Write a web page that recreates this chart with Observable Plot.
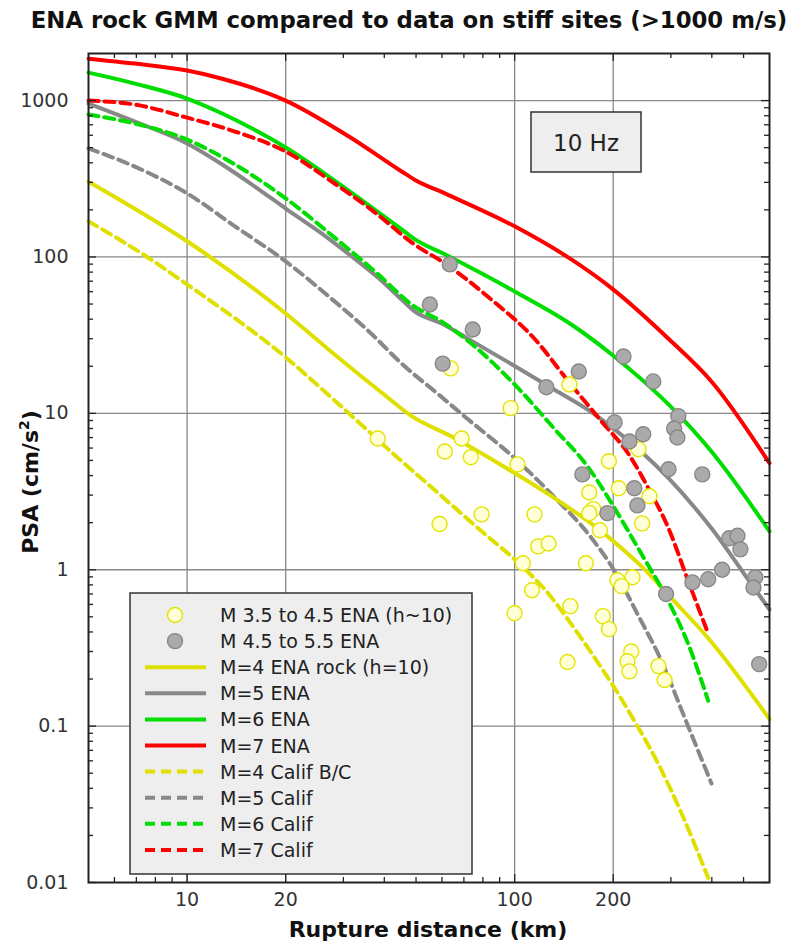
<!DOCTYPE html>
<html><head><meta charset="utf-8">
<script src="https://cdn.jsdelivr.net/npm/d3@7"></script>
<script src="https://cdn.jsdelivr.net/npm/@observablehq/plot@0.6"></script>
<style>body{margin:0;background:#fff;} svg{display:block}</style>
</head><body><div id="chart"></div>
<script>
// ---- tick values ----
const xTicks = [10, 20, 100, 200];
const xMinor = [6, 7, 8, 9, 30, 40, 50, 60, 70, 80, 90, 300, 400, 500];
const yTicks = [0.01, 0.1, 1, 10, 100, 1000];
const yGrid = [0.1, 1, 10, 100, 1000];
const yMinor = [0.02,0.03,0.04,0.05,0.06,0.07,0.08,0.09,
                0.2,0.3,0.4,0.5,0.6,0.7,0.8,0.9,
                2,3,4,5,6,7,8,9,
                20,30,40,50,60,70,80,90,
                200,300,400,500,600,700,800,900];

// ---- model curves [distance km, PSA cm/s2] ----
const ena4 = [[5,303],[10,126],[20,43.5],[28.2,23.8],[39.4,13.5],[48.5,9.6],[64.3,7.1],[91,4.67],[123,3.17],[184,1.76],[244,1.05],[307,0.63],[390,0.365],[600,0.111]];
const ena5 = [[5,957],[6.93,734],[10,531],[12.8,390],[16.1,282],[20,204],[25.8,141],[31.2,104],[39.4,70],[45.2,53.4],[49.5,44.9],[59.9,37.5],[74,29],[100,20.1],[132,14.2],[175,9.9],[202,7.9],[295,3.85],[399,1.84],[528,0.81],[600,0.557]];
const ena6 = [[5,1510],[6.93,1284],[10,1030],[12.8,826],[15.8,662],[20,501],[28.2,308],[37.4,201],[45.2,150],[49.5,130],[61.2,104],[100,60.2],[149,37],[198,23.8],[295,11.4],[399,5.7],[600,1.76]];
const ena7 = [[5,1854],[6.93,1724],[10,1556],[12.8,1380],[20,1000],[31.2,589],[45.2,352],[49.5,312],[61.2,255],[100,157],[149,96.4],[198,63],[295,30],[399,16],[600,4.8]];
const cal4 = [[5,169],[7.55,100],[10,66.7],[20,22.8],[28.2,12.1],[45.2,4.94],[59.9,2.95],[79.3,1.76],[103,1.10],[127,0.70],[146,0.476],[175,0.276],[202,0.175],[232,0.108],[275,0.057],[323,0.0278],[390,0.0107]];
const cal5 = [[5,494],[6.93,378],[10,255],[14,157],[20,93.6],[28.2,52],[35.9,33.4],[45.2,20.8],[59.9,12.7],[68.9,9.9],[100,5.16],[136,2.74],[168,1.69],[202,0.978],[239,0.505],[281,0.26],[330,0.114],[399,0.043]];
const cal6 = [[5,814],[6.93,713],[10,563],[14,390],[20,237],[28.2,133],[37.4,81],[49.5,48.1],[59.9,38.6],[72.4,28.8],[100,15.3],[132,8.0],[168,4.5],[202,2.47],[244,1.26],[287,0.70],[339,0.334],[390,0.145]];
const cal7 = [[5,1000],[6.93,943],[10,778],[14,634],[20,472],[28.2,295],[37.4,193],[49.5,120],[61.2,91],[85,53.3],[115,30],[146,16],[184,8.9],[223,5.47],[256,3.32],[295,1.84],[339,0.844],[390,0.39]];

// ---- observed data ----
const dataM4 = [[38.2,6.9],[63.8,19.4],[147,15.3],[97.2,10.8],[68.9,6.9],[61.2,5.7],[73.5,5.24],[102,4.72],[194,4.94],[208,3.32],[169,3.12],[258,2.95],[174,2.44],[169,2.30],[182,1.79],[245,1.98],[239,5.9],[79.3,2.26],[59,1.96],[115,2.26],[118,1.41],[127,1.47],[165,1.10],[106,1.10],[206,0.857],[229,0.895],[212,0.786],[113,0.74],[148,0.585],[100,0.527],[186,0.505],[194,0.417],[145,0.257],[227,0.30],[221,0.26],[224,0.224],[275,0.242],[287,0.197]];
const dataM5 = [[63.4,89.6],[55.1,49.7],[74.5,34.4],[60.3,20.8],[125,14.7],[157,18.5],[215,23.1],[265,16],[202,8.76],[224,6.6],[247,7.35],[316,9.6],[307,8.0],[314,7.0],[161,4.07],[295,4.39],[374,4.07],[232,3.32],[237,2.58],[192,2.30],[452,1.59],[479,1.65],[489,1.35],[430,1.0],[390,0.87],[349,0.83],[543,0.895],[536,0.77],[290,0.70],[558,0.249]];

const C = {yellow:"#e0e000", gray:"#888888", green:"#00dd00", red:"#ff0000"};
const series = [
  {d: ena4, c: C.yellow, dash: null, label: "M=4 ENA rock (h=10)"},
  {d: ena5, c: C.gray, dash: null, label: "M=5 ENA"},
  {d: ena6, c: C.green, dash: null, label: "M=6 ENA"},
  {d: ena7, c: C.red, dash: null, label: "M=7 ENA"},
  {d: cal4, c: C.yellow, dash: "10,6", label: "M=4 Calif B/C"},
  {d: cal5, c: C.gray, dash: "10,6", label: "M=5 Calif"},
  {d: cal6, c: C.green, dash: "10,6", label: "M=6 Calif"},
  {d: cal7, c: C.red, dash: "10,6", label: "M=7 Calif"}
];

const W = 794, H = 948, mL = 88, mR = 25, mT = 53, mB = 66;
const FH = H - mT - mB, FW = W - mL - mR;
const font = "DejaVu Sans";

const lineMarks = [];
for (const s of [series[4], series[5], series[0], series[1], series[2], series[6], series[3], series[7]]) {
  lineMarks.push(Plot.line(s.d, {x: d => d[0], y: d => d[1], stroke: s.c, strokeWidth: 4,
    strokeDasharray: s.dash || undefined, curve: "monotone-x"}));
}

const plot = Plot.plot({
  width: W, height: H,
  marginLeft: mL, marginRight: mR, marginTop: mT, marginBottom: mB,
  style: {fontFamily: font, fontSize: "19px", background: "#fff", color: "#333"},
  x: {type: "log", domain: [5, 600]},
  y: {type: "log", domain: [0.01, 2000]},
  marks: [
    Plot.ruleX(xTicks, {x: d => d, stroke: "#888", strokeWidth: 1.3}),
    Plot.ruleY(yGrid, {y: d => d, stroke: "#888", strokeWidth: 1.3}),
    ...lineMarks,
    Plot.dot(dataM4, {x: d => d[0], y: d => d[1], r: 7.5, fill: "#ffffd8", stroke: "#e4e400", strokeWidth: 1.4}),
    Plot.dot(dataM5, {x: d => d[0], y: d => d[1], r: 7.5, fill: "#aaaaaa", stroke: "#888888", strokeWidth: 1.4}),
    // inward ticks
    Plot.tickX(xMinor, {x: d => d, insetTop: FH - 5, stroke: "#222", strokeWidth: 1.3}),
    Plot.tickX(xMinor, {x: d => d, insetBottom: FH - 5, stroke: "#222", strokeWidth: 1.3}),
    Plot.tickX(xTicks, {x: d => d, insetTop: FH - 8, stroke: "#222", strokeWidth: 1.3}),
    Plot.tickX(xTicks, {x: d => d, insetBottom: FH - 8, stroke: "#222", strokeWidth: 1.3}),
    Plot.tickY(yMinor, {y: d => d, insetRight: FW - 5, stroke: "#222", strokeWidth: 1.3}),
    Plot.tickY(yMinor, {y: d => d, insetLeft: FW - 5, stroke: "#222", strokeWidth: 1.3}),
    Plot.tickY(yTicks, {y: d => d, insetRight: FW - 8, stroke: "#222", strokeWidth: 1.3}),
    Plot.tickY(yTicks, {y: d => d, insetLeft: FW - 8, stroke: "#222", strokeWidth: 1.3}),
    Plot.frame({stroke: "#222", strokeWidth: 2}),
    Plot.axisX({ticks: xTicks, tickSize: 0, tickPadding: 10, tickFormat: d => String(d), label: null, fill: "#333", fontSize: 19}),
    Plot.axisY({ticks: yTicks, tickSize: 0, tickPadding: 20, tickFormat: d => String(d), label: null, fill: "#333", fontSize: 19})
  ]
});

document.getElementById("chart").appendChild(plot);
const svg = d3.select(plot);

// title
svg.append("text").attr("x", 409).attr("y", 28).attr("text-anchor", "middle")
  .attr("font-family", font).attr("font-weight", "bold").attr("font-size", 22.8).attr("fill", "#111")
  .text("ENA rock GMM compared to data on stiff sites (>1000 m/s)");

// axis titles
svg.append("text").attr("x", 428).attr("y", 937).attr("text-anchor", "middle")
  .attr("font-family", font).attr("font-weight", "bold").attr("font-size", 22).attr("fill", "#111")
  .text("Rupture distance (km)");
const yl = svg.append("text").attr("transform", "translate(38,482) rotate(-90)").attr("text-anchor", "middle")
  .attr("font-family", font).attr("font-weight", "bold").attr("font-size", 22).attr("fill", "#111");
yl.append("tspan").text("PSA (cm/s");
yl.append("tspan").attr("dy", -9).attr("font-size", 14).text("2");
yl.append("tspan").attr("dy", 9).text(")");

// 10 Hz box
svg.append("rect").attr("x", 531).attr("y", 112).attr("width", 110).attr("height", 60)
  .attr("fill", "#eeeeee").attr("stroke", "#333").attr("stroke-width", 1.5);
svg.append("text").attr("x", 586).attr("y", 151).attr("text-anchor", "middle")
  .attr("font-family", font).attr("font-size", 23).attr("fill", "#222").text("10 Hz");

// legend
const lg = svg.append("g");
lg.append("rect").attr("x", 130).attr("y", 593).attr("width", 342).attr("height", 281)
  .attr("fill", "#eeeeee").attr("stroke", "#333").attr("stroke-width", 1.5);
const legendItems = [
  {type: "dot", fill: "#ffffd8", stroke: "#e4e400", label: "M 3.5 to 4.5 ENA (h~10)"},
  {type: "dot", fill: "#aaaaaa", stroke: "#888888", label: "M 4.5 to 5.5 ENA"},
  ...series.map(s => ({type: "line", c: s.c, dash: s.dash, label: s.label}))
];
legendItems.forEach((it, i) => {
  const cy = 615 + i * 26.1;
  if (it.type === "dot") {
    lg.append("circle").attr("cx", 175).attr("cy", cy).attr("r", 7.5)
      .attr("fill", it.fill).attr("stroke", it.stroke).attr("stroke-width", 1.4);
  } else {
    const l = lg.append("line").attr("x1", 145).attr("x2", 206).attr("y1", cy).attr("y2", cy)
      .attr("stroke", it.c).attr("stroke-width", 4);
    if (it.dash) l.attr("stroke-dasharray", it.dash);
  }
  lg.append("text").attr("x", 220).attr("y", cy + 7).attr("text-anchor", "start")
    .attr("font-family", font).attr("font-size", 19).attr("fill", "#222").text(it.label);
});
</script>
</body></html>
